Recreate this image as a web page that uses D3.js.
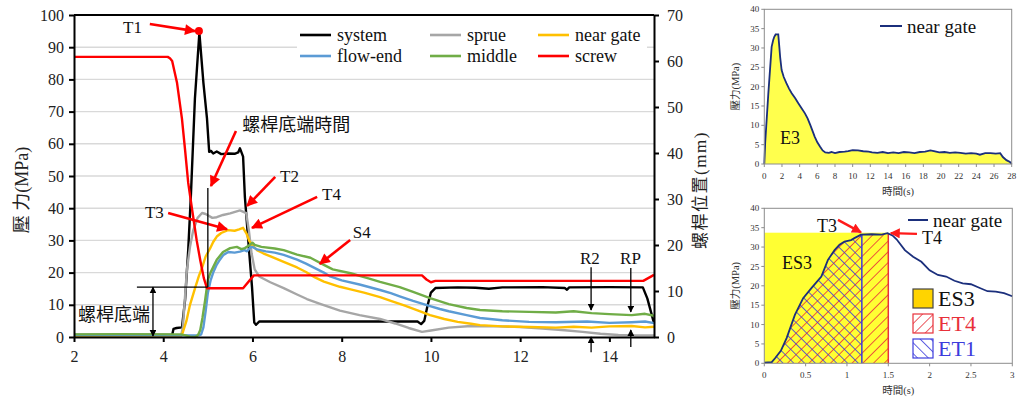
<!DOCTYPE html>
<html><head><meta charset="utf-8">
<script src="https://cdn.jsdelivr.net/npm/d3@7"></script>
<style>
html,body{margin:0;padding:0;background:#fff;}
svg{display:block;}
text{font-family:"Liberation Serif","Times New Roman","Noto Sans CJK TC",serif;}
</style></head><body>
<svg id="c" width="1024" height="399"></svg>
<script>
// ---------------- DATA (main chart: time s, pressure MPa; screw in mm) ----------------
const xTicksMain = [2,4,6,8,10,12,14];
const yTicksMain = [0,10,20,30,40,50,60,70,80,90,100];
const yTicksScrew = [0,10,20,30,40,50,60,70];
const seriesNames = ["system","sprue","near gate","flow-end","middle","screw"];
const seriesColors = ["#000000","#a6a6a6","#ffc000","#5b9bd5","#70ad47","#ff0000"];

const system = [[2,0.6],[4.2,0.6],[4.23,2.5],[4.3,2.8],[4.42,3.0],[4.49,11.5],[4.56,27],[4.62,44],[4.71,74],[4.81,94.5],
 [4.9,79],[4.98,68],[5.03,57.5],[5.07,57.8],[5.12,57],[5.2,57.6],[5.3,56.8],[5.45,57],[5.6,56.9],[5.68,57.3],[5.72,58.6],
 [5.79,56],[5.83,43.5],[5.9,31],[5.99,15.5],[6.04,4.5],[6.08,3.8],[6.15,4.8],[7.5,4.8],[9.7,4.8],[9.78,4.0],[9.85,5],
 [9.92,9.5],[10.0,13.8],[10.1,15.2],[10.6,15.4],[11.0,15.3],[11.3,15.0],[11.6,15.4],[12.5,15.5],[13.0,15.2],[13.05,14.7],
 [13.1,15.4],[14.0,15.5],[14.75,15.4],[14.85,12],[15,4.3]];
const sprue = [[2,0.3],[4.4,0.4],[4.44,3],[4.53,20.8],[4.6,28],[4.67,33],[4.77,37],[4.87,38.5],[4.95,38.2],[5.1,37],
 [5.2,37.2],[5.34,37.9],[5.5,38.4],[5.72,39.3],[5.86,38.5],[5.92,33],[5.98,26],[6.05,21],[6.15,18.8],[6.4,17],[6.7,15.2],
 [7.0,13.2],[7.22,11.8],[7.5,10.4],[7.96,8.2],[8.4,6.8],[8.86,5.6],[9.2,4.2],[9.5,2.8],[9.8,1.6],[10.0,2.0],[10.4,2.9],
 [10.9,3.4],[11.5,3.3],[12.0,3.1],[12.5,2.6],[13.0,2.1],[13.4,1.6],[13.8,1.0],[14.2,0.6],[14.6,0.5],[15,0.5]];
const nearGate = [[2,0.3],[4.4,0.3],[4.44,1.5],[4.52,5],[4.6,10],[4.71,15],[4.8,19],[4.87,21.5],[4.95,25],[5.05,27.5],
 [5.12,29.5],[5.2,31.2],[5.3,32.3],[5.45,33.2],[5.6,33],[5.7,33.4],[5.79,33.9],[5.87,32],[5.93,29.8],[6.0,28.5],[6.1,27],
 [6.24,26],[6.5,24.5],[6.7,23.3],[7.0,21.6],[7.2,20.2],[7.4,18.5],[7.6,17.2],[7.96,15.6],[8.2,14.8],[8.5,13.8],[8.86,12.4],
 [9.1,11.2],[9.4,9.8],[9.7,8.3],[9.98,6.8],[10.3,5.6],[10.6,4.7],[10.9,4.1],[11.1,3.7],[11.6,3.3],[12.2,3.1],[12.8,2.9],
 [13.2,3.2],[13.6,2.9],[14.0,3.3],[14.5,3.4],[14.8,3.0],[15,3.2]];
const flowEnd = [[2,0.6],[4.8,0.5],[4.85,0.8],[4.9,3],[4.95,8],[5.0,13.7],[5.06,17.5],[5.12,20],[5.2,22.5],[5.27,24],
 [5.35,25.5],[5.46,26.4],[5.6,26.2],[5.72,26.5],[5.82,27],[5.88,26.6],[5.95,27.8],[6.0,28],[6.1,27.2],[6.3,26.6],[6.5,26.2],
 [6.7,25.5],[7.0,24.0],[7.2,22.8],[7.4,21.4],[7.6,20],[7.74,18.8],[8.0,17.6],[8.4,16.3],[8.86,14.6],[9.1,13.6],[9.3,12.6],
 [9.6,11.2],[9.98,9.6],[10.2,8.7],[10.4,8.0],[10.8,6.8],[11.1,5.9],[11.6,5.2],[12.2,4.7],[12.8,4.6],[13.5,4.8],[14.0,4.4],
 [14.5,4.6],[14.8,4.8],[15,4.3]];
const middle = [[2,0.8],[3.0,0.9],[4.4,0.8],[4.5,0.5],[4.6,0.1],[4.72,0],[4.78,0.6],[4.83,2.2],[4.88,6],[4.94,11.5],
 [5.0,17.7],[5.06,20],[5.12,21.7],[5.2,24],[5.34,26.4],[5.5,27.6],[5.65,28],[5.75,27.3],[5.83,27.6],[5.92,28.4],[6.0,29.3],
 [6.05,28.6],[6.2,28],[6.5,27.5],[6.7,27],[7.0,25.6],[7.3,24.6],[7.6,22.4],[7.8,21.0],[8.2,19.8],[8.6,18.2],[8.86,17.1],
 [9.3,15.5],[9.6,14.0],[9.98,12.1],[10.4,10.2],[10.8,9.0],[11.1,8.4],[11.6,8.0],[12.2,7.8],[12.8,7.6],[13.2,8.0],[13.6,7.4],
 [14.0,7.1],[14.5,6.8],[14.8,7.2],[15,6.6]];
const screw = [[2,60.9],[4.1,60.9],[4.15,60.6],[4.2,60.0],[4.31,55.2],[4.42,47.4],[4.49,40.6],[4.56,33.5],[4.65,27.5],
 [4.75,21],[4.83,16.7],[4.91,12.8],[4.98,10.6],[5.79,10.6],[6.03,13.4],[9.8,13.4],[9.9,12.5],[10.0,11.9],[10.1,12.2],
 [14.76,12.2],[15,13.5]];
const mainSeries = [system, sprue, nearGate, flowEnd, middle, screw];

// ---------------- DATA (small charts, near gate only) ----------------
const xTicksTop = [0,2,4,6,8,10,12,14,16,18,20,22,24,26,28];
const yTicksSmall = [0,5,10,15,20,25,30,35,40];
const xTicksBottom = [0,0.5,1,1.5,2,2.5,3];
const xTickLabelsBottom = ["0","0.5","1","1.5","2","2.5","3"];
const nearGateFull = [[0,0],[0.1,5.5],[0.45,18],[0.83,30.3],[1.0,32],[1.13,32.9],[1.28,33.5],[1.58,33.5],[1.7,30.3],
 [1.8,27.5],[1.96,24.3],[2.2,22.5],[2.5,20.9],[2.8,19.5],[3.1,18.3],[3.5,17],[3.85,15.7],[4.2,14.5],[4.6,13.1],[4.9,11.8],
 [5.2,10.1],[5.5,8.3],[5.7,7.1],[6.0,5.6],[6.3,4.5],[6.6,3.5],[6.9,3.0],[7.3,2.9],[7.6,3.1],[8.0,2.8],[8.5,3.1],[9.1,3.2],
 [9.5,3.3],[10.0,3.6],[10.6,3.5],[11.2,3.3],[11.8,3.2],[12.2,3.0],[12.8,2.9],[13.4,3.1],[14.0,2.8],[14.6,3.0],[15.2,2.8],
 [15.8,3.1],[16.4,3.0],[17.0,2.8],[17.6,3.1],[18.2,3.2],[18.8,3.5],[19.2,3.3],[19.8,3.0],[20.4,3.1],[21.0,2.9],[21.6,3.0],
 [22.2,2.9],[22.8,2.7],[23.4,2.8],[24.0,2.7],[24.4,2.4],[25.0,2.8],[25.6,2.8],[26.2,2.7],[26.7,2.8],[27.0,1.8],[27.4,1.0],
 [27.8,0.5],[28,0]];
const nearGateFill = [[0,0.2],[0.09,0.3],[0.13,1.3],[0.2,3.2],[0.27,6.5],[0.37,12.5],[0.47,16.8],[0.57,19.4],[0.69,22.4],
 [0.77,26.7],[0.85,29.2],[0.91,30.6],[0.97,31.4],[1.05,31.8],[1.09,32.3],[1.17,33.2],[1.3,33.3],[1.42,33.2],[1.49,33.6],
 [1.55,33],[1.6,32],[1.7,29.2],[1.8,27.5],[1.9,26.2],[2.0,24],[2.1,22.8],[2.2,22.4],[2.3,21.3],[2.4,20.6],[2.5,20.4],
 [2.6,19.5],[2.7,18.6],[2.8,18.5],[2.9,18.1],[3.0,17.3]];
const pointT3 = [1.18, 33.2];
const pointT4 = [1.5, 33.6];
const es3Top = 33.7;

// ---------------- DRAW ----------------
const svg = d3.select("#c");
const defs = svg.append("defs");
function marker(id, color, w, h){
  defs.append("marker").attr("id",id).attr("viewBox","0 0 10 10").attr("refX",9).attr("refY",5)
   .attr("markerUnits","userSpaceOnUse").attr("markerWidth",w).attr("markerHeight",h).attr("orient","auto-start-reverse")
   .append("path").attr("d","M0,0L10,5L0,10Z").attr("fill",color);
}
marker("ar","#ff0000",13,11);
marker("ars","#ff1a1a",11,10);
marker("ab","#000",7,7);
function hatch(id,color,rot){
  const p = defs.append("pattern").attr("id",id).attr("patternUnits","userSpaceOnUse")
    .attr("width",7.6).attr("height",7.6).attr("patternTransform",`rotate(${rot})`);
  p.append("line").attr("x1",0).attr("y1",0).attr("x2",0).attr("y2",7.6).attr("stroke",color).attr("stroke-width",1.6);
}
hatch("hr","#e8303a",45);
hatch("hb","#3c3cdc",-45);

// ===== MAIN CHART =====
const xM = d3.scaleLinear().domain([2,15]).range([74,654]);
const yM = d3.scaleLinear().domain([0,100]).range([337,15]);
const yS = d3.scaleLinear().domain([0,70]).range([337,15]);
const gM = svg.append("g");
gM.append("g").selectAll("line").data(yTicksMain.filter(v=>v>0&&v<100)).join("line")
  .attr("x1",xM(2)).attr("x2",xM(15)).attr("y1",d=>yM(d)).attr("y2",d=>yM(d))
  .attr("stroke","#d9d9d9").attr("stroke-width",1.4);

const lineM = d3.line().x(d=>xM(d[0])).y(d=>yM(d[1]));
const lineS = d3.line().x(d=>xM(d[0])).y(d=>yS(d[1]));
mainSeries.forEach((s,i)=>{
  gM.append("path").attr("d", i===5 ? lineS(s) : lineM(s)).attr("fill","none")
    .attr("stroke",seriesColors[i]).attr("stroke-width",2.4).attr("stroke-linejoin","round");
});

// legend
gM.append("rect").attr("x",297).attr("y",18).attr("width",350).attr("height",54).attr("fill","#fff");
const legPos = [[300,35],[430,35],[538,35],[300,56],[430,56],[538,56]];
seriesNames.forEach((n,i)=>{
  const [lx,ly] = legPos[i];
  gM.append("line").attr("x1",lx).attr("x2",lx+31).attr("y1",ly).attr("y2",ly)
    .attr("stroke",seriesColors[i]).attr("stroke-width",2.6);
  gM.append("text").attr("x",lx+37).attr("y",ly).attr("dy","0.32em").attr("font-size",18).attr("fill","#111").text(n);
});

// axes
function styleAxis(g,fs){
  g.selectAll(".domain").attr("stroke","#000").attr("stroke-width",2);
  g.selectAll(".tick line").attr("stroke","#000").attr("stroke-width",2);
  g.selectAll("text").attr("font-size",fs).attr("fill","#222")
   .attr("font-family","'Liberation Serif',serif");
}
const axL = gM.append("g").attr("transform",`translate(${xM(2)},0)`)
  .call(d3.axisLeft(yM).tickValues(yTicksMain).tickSize(5).tickPadding(5).tickSizeOuter(0));
styleAxis(axL,16);
const axB = gM.append("g").attr("transform",`translate(0,${yM(0)})`)
  .call(d3.axisBottom(xM).tickValues(xTicksMain).tickSize(5).tickPadding(9).tickSizeOuter(0));
styleAxis(axB,16);
const axR = gM.append("g").attr("transform",`translate(${xM(15)},0)`)
  .call(d3.axisRight(yS).tickValues(yTicksScrew).tickSize(5).tickPadding(8).tickSizeOuter(0));
styleAxis(axR,16);
gM.append("line").attr("x1",xM(2)).attr("x2",xM(15)).attr("y1",yM(100)).attr("y2",yM(100))
  .attr("stroke","#000").attr("stroke-width",2);

// axis titles
gM.append("text").attr("transform",`translate(22,${yM(50)+14}) rotate(-90)`).attr("text-anchor","middle")
  .attr("dy","0.35em").attr("font-size",18).attr("fill","#222").text("壓 力(MPa)");
gM.append("text").attr("transform",`translate(700,${yM(50)+14}) rotate(-90)`).attr("text-anchor","middle")
  .attr("dy","0.35em").attr("font-size",17).attr("letter-spacing",1.5).attr("fill","#222").text("螺桿位置(mm)");

// annotations (data coords)
const P = (t,v)=>[xM(t),yM(v)];
function arrow(g,a,b,m,w,c){
  g.append("line").attr("x1",a[0]).attr("y1",a[1]).attr("x2",b[0]).attr("y2",b[1])
   .attr("stroke",c).attr("stroke-width",w).attr("marker-end",`url(#${m})`);
}
function label(g,txt,p,fs,col,anchor){
  g.append("text").attr("x",p[0]).attr("y",p[1]).attr("dy","0.35em").attr("font-size",fs)
   .attr("fill",col||"#111").attr("text-anchor",anchor||"start").text(txt);
}
gM.append("circle").attr("cx",xM(4.80)).attr("cy",yM(95)).attr("r",4).attr("fill","#ff0000");
const redArrows = [[[3.70,97.2],[4.71,95.0]],[[5.63,64.0],[5.07,46.9]],[[6.51,49.7],[5.88,40.7]],
  [[7.45,43.5],[5.99,33.9]],[[4.11,38.5],[5.43,33.5]],[[8.19,30.1],[7.51,22.7]]];
redArrows.forEach(a=>arrow(gM,P(...a[0]),P(...a[1]),"ar",2.6,"#ff0000"));
const mainLabels = [["T1",[3.10,96.3],17],["螺桿底端時間",[5.77,65.8],18],["T2",[6.62,50],17],["T4",[7.56,44.4],17],
  ["T3",[3.59,38.8],17],["S4",[8.25,32.6],17],["R2",[13.34,24.5],17],["RP",[14.24,24.5],17],["螺桿底端",[2.09,6.8],18]];
mainLabels.forEach(l=>label(gM,l[0],P(...l[1]),l[2]));
// 螺桿底端 markers
gM.append("line").attr("x1",xM(3.41)).attr("x2",xM(5.0)).attr("y1",yM(15.5)).attr("y2",yM(15.5)).attr("stroke","#000").attr("stroke-width",1.3);
gM.append("line").attr("x1",xM(5.0)).attr("x2",xM(5.0)).attr("y1",yM(15.5)).attr("y2",yM(46.3)).attr("stroke","#000").attr("stroke-width",1.3);
gM.append("line").attr("x1",xM(3.77)).attr("x2",xM(3.77)).attr("y1",yM(15.5)).attr("y2",yM(0.3))
  .attr("stroke","#000").attr("stroke-width",1.3).attr("marker-start","url(#ab)").attr("marker-end","url(#ab)");
const blackArrows = [[[13.59,21.7],[13.59,8.4]],[[13.59,-4.7],[13.59,0]],[[14.48,21.4],[14.48,7.8]],[[14.48,-3.1],[14.48,2.2]]];
blackArrows.forEach(a=>arrow(gM,P(...a[0]),P(...a[1]),"ab",1.3,"#000"));

// ===== SMALL CHART HELPERS =====
function smallAxes(g,x,y,xt,xtl){
  const x0=x.range()[0], x1=x.range()[1], y0=y.range()[0], y1=y.range()[1];
  g.append("rect").attr("x",x0).attr("y",y1).attr("width",x1-x0).attr("height",y0-y1)
   .attr("fill","none").attr("stroke","#8c8c8c").attr("stroke-width",1);
  g.selectAll(".yt").data(yTicksSmall).join("line").attr("x1",x0-3).attr("x2",x0).attr("y1",d=>y(d)).attr("y2",d=>y(d)).attr("stroke","#8c8c8c");
  g.selectAll(".ytl").data(yTicksSmall).join("text").attr("x",x0-5).attr("y",d=>y(d)).attr("dy","0.35em")
   .attr("text-anchor","end").attr("font-size",9).attr("fill","#333").text(d=>d);
  g.selectAll(".xt").data(xt).join("line").attr("x1",d=>x(d)).attr("x2",d=>x(d)).attr("y1",y0).attr("y2",y0+3).attr("stroke","#8c8c8c");
  g.selectAll(".xtl").data(xt).join("text").attr("x",d=>x(d)).attr("y",y0+12).attr("dy","0.35em")
   .attr("text-anchor","middle").attr("font-size",9).attr("fill","#333").text((d,i)=>xtl?xtl[i]:d);
  g.append("text").attr("transform",`translate(735,${(y0+y1)/2}) rotate(-90)`).attr("text-anchor","middle")
   .attr("dy","0.35em").attr("font-size",10.5).attr("fill","#333").text("壓力(MPa)");
  g.append("text").attr("x",(x0+x1)/2+10).attr("y",y0+27).attr("dy","0.35em").attr("text-anchor","middle")
   .attr("font-size",10.5).attr("fill","#333").text("時間(s)");
}
const navy = "#1b2f7c";

// ===== TOP-RIGHT =====
const xA = d3.scaleLinear().domain([0,28]).range([764.3,1011.7]);
const yA = d3.scaleLinear().domain([0,40]).range([164,9.3]);
const gA = svg.append("g");
gA.append("path").attr("d",d3.area().x(d=>xA(d[0])).y0(yA(0)).y1(d=>yA(d[1]))(nearGateFull)).attr("fill","#ffff4d");
gA.append("path").attr("d",d3.line().x(d=>xA(d[0])).y(d=>yA(d[1]))(nearGateFull)).attr("fill","none")
  .attr("stroke",navy).attr("stroke-width",1.8);
smallAxes(gA,xA,yA,xTicksTop);
gA.append("line").attr("x1",880).attr("x2",902).attr("y1",26).attr("y2",26).attr("stroke",navy).attr("stroke-width",2);
label(gA,"near gate",[907,26],19,"#111");
label(gA,"E3",[xA(1.78),yA(6.7)],18,"#111");

// ===== BOTTOM-RIGHT =====
const xB = d3.scaleLinear().domain([0,3]).range([764.3,1012.3]);
const yB = d3.scaleLinear().domain([0,40]).range([363.3,208.3]);
const gB = svg.append("g");
gB.append("rect").attr("x",xB(0)).attr("y",yB(es3Top)).attr("width",xB(pointT4[0])-xB(0)).attr("height",yB(0)-yB(es3Top)).attr("fill","#ffff33");
const areaB = d3.area().x(d=>xB(d[0])).y0(yB(0)).y1(d=>yB(d[1]));
function clip(id,t){
  defs.append("clipPath").attr("id",id).append("rect").attr("x",xB(0)).attr("y",yB(40)).attr("width",xB(t)-xB(0)).attr("height",yB(0)-yB(40));
}
clip("c4",pointT4[0]); clip("c1",pointT3[0]);
gB.append("g").attr("clip-path","url(#c4)").append("path").attr("d",areaB(nearGateFill)).attr("fill","url(#hr)");
gB.append("g").attr("clip-path","url(#c1)").append("path").attr("d",areaB(nearGateFill)).attr("fill","url(#hb)");
gB.append("line").attr("x1",xB(pointT3[0])).attr("x2",xB(pointT3[0])).attr("y1",yB(0)).attr("y2",yB(pointT3[1])).attr("stroke","#3c3cdc").attr("stroke-width",1.5);
gB.append("line").attr("x1",xB(pointT4[0])).attr("x2",xB(pointT4[0])).attr("y1",yB(0)).attr("y2",yB(pointT4[1])).attr("stroke","#e8303a").attr("stroke-width",1.5);
gB.append("path").attr("d",d3.line().x(d=>xB(d[0])).y(d=>yB(d[1]))(nearGateFill)).attr("fill","none")
  .attr("stroke",navy).attr("stroke-width",1.8);
smallAxes(gB,xB,yB,xTicksBottom,xTickLabelsBottom);
const PB=(t,v)=>[xB(t),yB(v)];
label(gB,"ES3",PB(0.214,25.9),18,"#111");
label(gB,"T3",PB(0.637,35.5),18,"#111");
label(gB,"T4",PB(1.908,32.3),18,"#111");
arrow(gB,PB(0.891,37.0),PB(1.17,33.8),"ars",2.4,"#ff1a1a");
arrow(gB,PB(1.847,33.4),PB(1.53,33.6),"ars",2.4,"#ff1a1a");
gB.append("line").attr("x1",908).attr("x2",928).attr("y1",220).attr("y2",220).attr("stroke",navy).attr("stroke-width",2);
label(gB,"near gate",[933,220],19,"#111");
const legB = [["ES3","#ffd400","#111",289],["ET4","url(#hr)","#e8303a",314],["ET1","url(#hb)","#3c3cdc",339]];
const legStroke = ["#444","#e8303a","#3c3cdc"];
legB.forEach((l,i)=>{
  gB.append("rect").attr("x",913).attr("y",l[3]).attr("width",20).attr("height",19).attr("fill",l[1]).attr("stroke",legStroke[i]).attr("stroke-width",1.2);
  label(gB,l[0],[938,l[3]+9.5],22,l[2]);
});
</script>
</body></html>
